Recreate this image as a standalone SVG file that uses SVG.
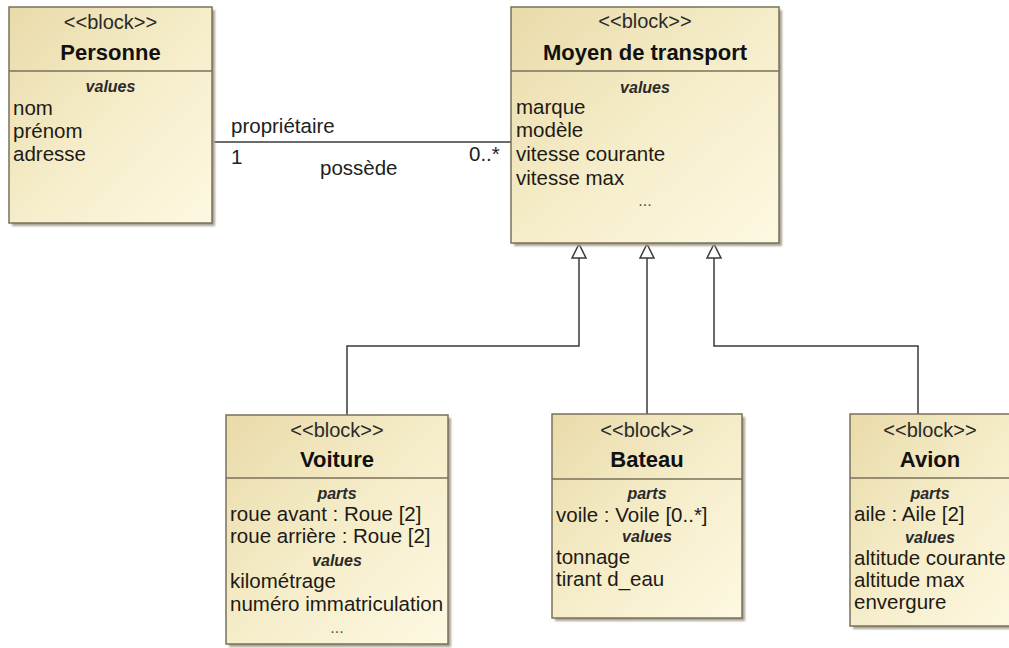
<svg xmlns="http://www.w3.org/2000/svg" width="1009" height="648" viewBox="0 0 1009 648">
  <style>
    text { font-family: "Liberation Sans", Arial, sans-serif; fill: #1e1a14; }
    .st { font-size: 20px; text-anchor: middle; fill: #2a2a2a; }
    .ti { font-size: 22px; font-weight: bold; text-anchor: middle; fill: #111; }
    .cp { font-size: 16px; font-style: italic; font-weight: bold; text-anchor: middle; fill: #2a2a2a; }
    .it { font-size: 20.5px; }
    .more { font-size: 16px; text-anchor: middle; fill: #555; }
    .lb { font-size: 20.5px; fill: #222; }
    .box { fill: url(#blockFill); stroke: #7a705a; stroke-width: 1.5; }
    .shadow { fill: #a8a294; filter: url(#soft); }
    .div { stroke: #7a705a; stroke-width: 1.5; }
    .conn { fill: none; stroke: #3a3a3a; stroke-width: 1.5; }
    .gen { fill: #ffffff; stroke: #3a3a3a; stroke-width: 1.5; }
  </style>
  <defs>
    <linearGradient id="blockFill" x1="0" y1="0" x2="1" y2="1">
      <stop offset="0" stop-color="#e9daa9"/>
      <stop offset="0.5" stop-color="#f5edc9"/>
      <stop offset="1" stop-color="#fdf8e2"/>
    </linearGradient>
    <filter id="soft" x="-5%" y="-5%" width="110%" height="110%">
      <feGaussianBlur stdDeviation="1"/>
    </filter>
  </defs>

  <rect width="1009" height="648" fill="#ffffff"/>

  <!-- connectors -->
  <g id="connectors">
    <!-- association possède -->
    <line class="conn" x1="212" y1="142" x2="511" y2="142"/>
    <text class="lb" x="231" y="133">propriétaire</text>
    <text class="lb" x="231" y="164">1</text>
    <text class="lb" x="320" y="175">possède</text>
    <text class="lb" x="469" y="161">0..*</text>
    <!-- generalizations -->
    <polyline class="conn" points="579,258 579,346 347,346 347,415"/>
    <polyline class="conn" points="647,258 647,414"/>
    <polyline class="conn" points="714,258 714,346 918,346 918,414"/>
    <polygon class="gen" points="579,244 572,258 586,258"/>
    <polygon class="gen" points="647,244 640,258 654,258"/>
    <polygon class="gen" points="714,244 707,258 721,258"/>
  </g>

  <!-- Personne -->
  <g id="personne">
    <rect class="shadow" x="12" y="10" width="203" height="216"/>
    <rect class="box" x="9" y="7" width="203" height="216"/>
    <line class="div" x1="9" y1="71" x2="212" y2="71"/>
    <text class="st" x="110.5" y="29">&lt;&lt;block&gt;&gt;</text>
    <text class="ti" x="110.5" y="60">Personne</text>
    <text class="cp" x="110.5" y="92">values</text>
    <text class="it" x="13" y="115">nom</text>
    <text class="it" x="13" y="138">prénom</text>
    <text class="it" x="13" y="161">adresse</text>
  </g>

  <!-- Moyen de transport -->
  <g id="moyen-de-transport">
    <rect class="shadow" x="514" y="10" width="268" height="236"/>
    <rect class="box" x="511" y="7" width="268" height="236"/>
    <line class="div" x1="511" y1="71" x2="779" y2="71"/>
    <text class="st" x="645" y="28">&lt;&lt;block&gt;&gt;</text>
    <text class="ti" x="645" y="60">Moyen de transport</text>
    <text class="cp" x="645" y="93">values</text>
    <text class="it" x="516" y="114">marque</text>
    <text class="it" x="516" y="137">modèle</text>
    <text class="it" x="516" y="161">vitesse courante</text>
    <text class="it" x="516" y="185">vitesse max</text>
    <text class="more" x="645" y="206">...</text>
  </g>

  <!-- Voiture -->
  <g id="voiture">
    <rect class="shadow" x="229" y="418" width="222" height="229"/>
    <rect class="box" x="226" y="415" width="222" height="229"/>
    <line class="div" x1="226" y1="478" x2="448" y2="478"/>
    <text class="st" x="337" y="437">&lt;&lt;block&gt;&gt;</text>
    <text class="ti" x="337" y="467">Voiture</text>
    <text class="cp" x="337" y="499">parts</text>
    <text class="it" x="230" y="521">roue avant : Roue [2]</text>
    <text class="it" x="230" y="543">roue arrière : Roue [2]</text>
    <text class="cp" x="337" y="566">values</text>
    <text class="it" x="230" y="588">kilométrage</text>
    <text class="it" x="230" y="611">numéro immatriculation</text>
    <text class="more" x="337" y="633">...</text>
  </g>

  <!-- Bateau -->
  <g id="bateau">
    <rect class="shadow" x="555" y="417" width="190" height="204"/>
    <rect class="box" x="552" y="414" width="190" height="204"/>
    <line class="div" x1="552" y1="479" x2="742" y2="479"/>
    <text class="st" x="647" y="437">&lt;&lt;block&gt;&gt;</text>
    <text class="ti" x="647" y="467">Bateau</text>
    <text class="cp" x="647" y="499">parts</text>
    <text class="it" x="556" y="522">voile : Voile [0..*]</text>
    <text class="cp" x="647" y="542">values</text>
    <text class="it" x="556" y="564">tonnage</text>
    <text class="it" x="556" y="586">tirant d_eau</text>
  </g>

  <!-- Avion -->
  <g id="avion">
    <rect class="shadow" x="853" y="417" width="170" height="212"/>
    <rect class="box" x="850" y="414" width="170" height="212"/>
    <line class="div" x1="850" y1="478" x2="1020" y2="478"/>
    <text class="st" x="930" y="437">&lt;&lt;block&gt;&gt;</text>
    <text class="ti" x="930" y="467">Avion</text>
    <text class="cp" x="930" y="499">parts</text>
    <text class="it" x="854" y="521">aile : Aile [2]</text>
    <text class="cp" x="930" y="543">values</text>
    <text class="it" x="854" y="565">altitude courante</text>
    <text class="it" x="854" y="587">altitude max</text>
    <text class="it" x="854" y="609">envergure</text>
  </g>
</svg>
